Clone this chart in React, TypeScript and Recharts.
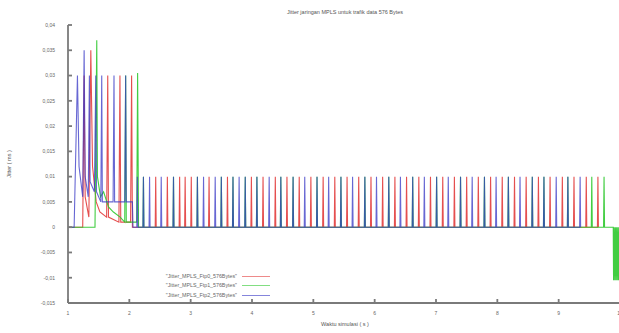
import React from "react";
import { Line, LineChart, XAxis, YAxis } from "recharts";

const xTicks = [1, 2, 3, 4, 5, 6, 7, 8, 9, 10];
const yTicks = [-0.015, -0.01, -0.005, 0, 0.005, 0.01, 0.015, 0.02, 0.025, 0.03, 0.035, 0.04];

// transient part at the start of the simulation, [time, jitter]
const ftp0Start = [
  [1.0, 0], [1.24, 0], [1.263, 0.03], [1.28, 0.006], [1.34, 0.002], [1.372, 0.035],
  [1.4, 0.012], [1.46, 0.005], [1.52, 0.003], [1.63, 0.002], [1.648, 0.03], [1.66, 0.002],
  [1.83, 0.001], [1.847, 0.03], [1.86, 0.001], [2.02, 0.001], [2.037, 0.03], [2.05, 0],
];
const ftp1Start = [
  [1.0, 0], [1.44, 0], [1.469, 0.037], [1.48, 0.01], [1.53, 0.006], [1.58, 0.007],
  [1.66, 0.004], [1.74, 0.003], [1.85, 0.002], [1.925, 0.001], [1.94, 0.03], [1.95, 0.001],
  [2.12, 0.001], [2.135, 0.0305], [2.15, 0],
];
const ftp2Start = [
  [1.0, 0], [1.1, 0], [1.154, 0.03], [1.18, 0.012], [1.24, 0.006], [1.263, 0.035],
  [1.28, 0.01], [1.33, 0.006], [1.349, 0.03], [1.36, 0.009], [1.43, 0.007], [1.453, 0.03],
  [1.465, 0.007], [1.535, 0.005], [1.55, 0.03], [1.56, 0.005], [1.735, 0.005], [1.75, 0.03],
  [1.76, 0.005], [1.925, 0.005], [1.94, 0.03], [1.95, 0.005], [2.05, 0.005], [2.06, 0], [2.1, 0],
];

// steady state: times of the 0,01 ms spikes
const ftp0Spikes = [
  2.43, 2.62, 2.82, 2.91, 3.01, 3.3, 3.6, 3.99, 4.18, 4.38, 4.57, 4.77, 4.96, 5.16, 5.35,
  5.55, 5.74, 5.94, 6.13, 6.33, 6.52, 6.72, 6.91, 7.11, 7.3, 7.5, 7.69, 7.89, 8.08, 8.28,
  8.47, 8.67, 8.86, 9.06, 9.25, 9.45, 9.64,
];
const ftp1Spikes = [
  2.23, 2.72, 3.11, 3.5, 3.69, 3.89, 4.08, 4.47, 4.67, 5.06, 5.45, 5.84, 6.23, 6.62, 7.01,
  7.4, 7.79, 8.18, 8.57, 8.76, 9.15, 9.54, 9.74,
];
const ftp2Spikes = [
  2.13, 2.23, 2.33, 2.52, 2.72, 3.11, 3.21, 3.4, 3.5, 3.69, 3.79, 3.89, 4.08, 4.28, 4.47,
  4.67, 4.86, 5.06, 5.25, 5.45, 5.64, 5.84, 6.03, 6.23, 6.42, 6.62, 6.81, 7.01, 7.2, 7.4,
  7.59, 7.79, 7.98, 8.18, 8.37, 8.57, 8.76, 8.96, 9.15, 9.35,
];

// negative jitter block at the very end of Ftp1
const ftp1End = [
  [9.8, 0], [9.89, 0], [9.895, -0.0105], [9.905, 0], [9.915, -0.0105], [9.925, 0], [9.935, -0.0105],
  [9.945, 0], [9.955, -0.0105], [9.965, 0], [9.975, -0.0105], [9.985, 0], [9.995, -0.0105], [10, 0],
];

const spikeHeight = 0.01;

function buildSeries(start: number[][], spikes: number[], end: number[][] = []) {
  const pts = start.map(([x, y]) => ({ x, y }));
  spikes.forEach((t) => {
    pts.push({ x: t - 0.008, y: 0 }, { x: t, y: spikeHeight }, { x: t + 0.008, y: 0 });
  });
  end.forEach(([x, y]) => pts.push({ x, y }));
  return pts.sort((a, b) => a.x - b.x);
}

const series = [
  { name: '"Jitter_MPLS_Ftp0_576Bytes"', color: "#e23c3c", opacity: 0.9, data: buildSeries(ftp0Start, ftp0Spikes) },
  { name: '"Jitter_MPLS_Ftp1_576Bytes"', color: "#2ec82e", opacity: 0.9, data: buildSeries(ftp1Start, ftp1Spikes, ftp1End) },
  { name: '"Jitter_MPLS_Ftp2_576Bytes"', color: "#3434c4", opacity: 0.75, data: buildSeries(ftp2Start, ftp2Spikes) },
];

const font = "'Liberation Sans', Arial, sans-serif";
const textColor = "#666";
const frame = "#7a7a7a";

const fmt = (v: number) => (v === 0 ? "0" : String(v).replace(".", ","));

export default function App() {
  return (
    <div
      style={{
        position: "fixed",
        left: 0,
        top: 0,
        width: 619,
        height: 333,
        overflow: "hidden",
        background: "#fff",
        fontFamily: font,
      }}
    >
      <LineChart width={640} height={333} margin={{ top: 25, right: 20, bottom: 0, left: 0 }}>
        <XAxis
          dataKey="x"
          type="number"
          domain={[1, 10]}
          ticks={xTicks}
          allowDataOverflow
          height={30}
          tickSize={-4}
          tickMargin={12}
          stroke={frame}
          strokeWidth={1.8}
          tick={{ fontSize: 5, fill: textColor, fontFamily: font }}
        />
        <XAxis
          xAxisId="top"
          orientation="top"
          type="number"
          domain={[1, 10]}
          ticks={xTicks}
          height={0}
          tickSize={-4}
          tickFormatter={() => ""}
          stroke={frame}
          strokeWidth={1.8}
        />
        <YAxis
          type="number"
          domain={[-0.015, 0.04]}
          ticks={yTicks}
          allowDataOverflow
          width={68}
          tickSize={-4}
          tickMargin={17}
          tickFormatter={fmt}
          stroke={frame}
          strokeWidth={1.8}
          tick={{ fontSize: 5, fill: textColor, fontFamily: font }}
        />
        {series.map((s) => (
          <Line
            key={s.name}
            data={s.data}
            dataKey="y"
            type="linear"
            stroke={s.color}
            strokeOpacity={s.opacity}
            strokeWidth={1.1}
            dot={false}
            activeDot={false}
            isAnimationActive={false}
          />
        ))}
      </LineChart>

      <div
        style={{
          position: "absolute",
          left: 345,
          top: 10,
          transform: "translateX(-50%)",
          whiteSpace: "nowrap",
          fontSize: 5.5,
          lineHeight: 1,
          color: "#555",
        }}
      >
        Jitter jaringan MPLS untuk trafik data 576 Bytes
      </div>
      <div
        style={{
          position: "absolute",
          left: 345,
          top: 322,
          transform: "translateX(-50%)",
          whiteSpace: "nowrap",
          fontSize: 5.5,
          lineHeight: 1,
          color: "#555",
        }}
      >
        Waktu simulasi ( s )
      </div>
      <div
        style={{
          position: "absolute",
          left: 10,
          top: 164,
          transform: "translate(-50%, -50%) rotate(-90deg)",
          whiteSpace: "nowrap",
          fontSize: 5.5,
          lineHeight: 1,
          color: "#555",
        }}
      >
        Jitter ( ms )
      </div>

      {series.map((s, i) => (
        <div
          key={s.name}
          style={{ position: "absolute", left: 120, top: 273 + i * 9.3, width: 150, height: 6, fontSize: 5.3, lineHeight: "6px", color: textColor }}
        >
          <span style={{ position: "absolute", right: 33, whiteSpace: "nowrap" }}>{s.name}</span>
          <span style={{ position: "absolute", left: 122, top: 3, width: 28, height: 1, background: s.color, opacity: 0.6 }} />
        </div>
      ))}
    </div>
  );
}
